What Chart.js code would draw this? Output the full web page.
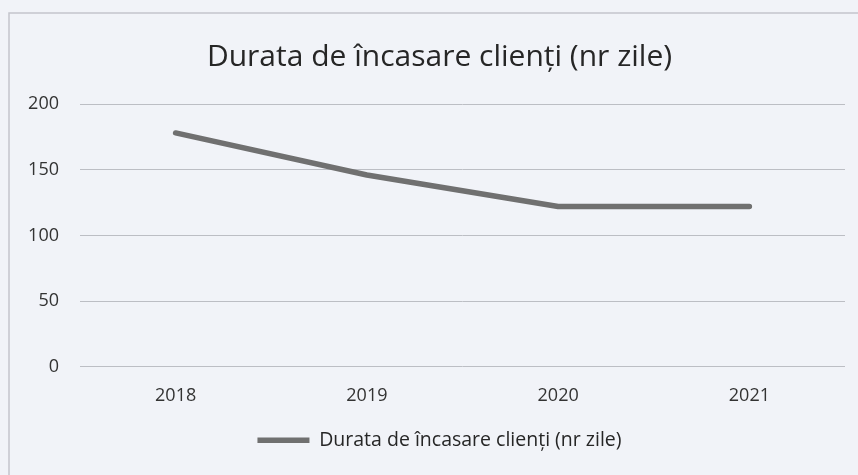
<!DOCTYPE html>
<html>
<head>
<meta charset="utf-8">
<script src="https://cdn.jsdelivr.net/npm/chart.js@4.4.1/dist/chart.umd.min.js"></script>
<style>
html,body{margin:0;padding:0;background:#eff1f6;}
#wrap{position:relative;width:858px;height:475px;}
canvas{display:block;}
</style>
</head>
<body>
<div id="wrap"><canvas id="c" width="858" height="475"></canvas></div>
<script>
const categories = ["2018", "2019", "2020", "2021"];
const seriesName = "Durata de încasare clienți (nr zile)";
const seriesValues = [178, 146, 122, 122];
const yTicks = [0, 50, 100, 150, 200];
const chartTitle = "Durata de încasare clienți (nr zile)";

const frame = {
  id: 'frame',
  afterLayout(chart) {
    const shift = 17;
    [chart.titleBlock, chart.legend].forEach(b => {
      if (b) { b.left += shift; b.right += shift; }
    });
  },
  beforeDraw(chart) {
    const ctx = chart.ctx;
    ctx.save();
    ctx.fillStyle = '#f1f3f8';
    ctx.fillRect(0, 0, chart.width, chart.height);
    ctx.strokeStyle = '#c3c5cc';
    ctx.lineWidth = 1.5;
    ctx.beginPath();
    ctx.moveTo(9, chart.height + 5);
    ctx.lineTo(9, 13);
    ctx.lineTo(chart.width + 5, 13);
    ctx.stroke();
    ctx.restore();
  }
};

new Chart(document.getElementById('c'), {
  type: 'line',
  data: {
    labels: categories,
    datasets: [{
      label: seriesName,
      data: seriesValues,
      borderColor: '#707070',
      backgroundColor: '#707070',
      borderWidth: 5.5,
      borderCapStyle: 'round',
      borderJoinStyle: 'round',
      pointRadius: 0,
      pointHoverRadius: 0,
      tension: 0,
      pointStyle: 'line'
    }]
  },
  options: {
    responsive: false,
    animation: false,
    devicePixelRatio: 1,
    layout: { padding: { left: 0, right: 13, top: 0, bottom: 15 } },
    plugins: {
      title: {
        display: true,
        text: chartTitle,
        color: '#262626',
        font: { family: 'Open Sans', size: 30, weight: 'normal' },
        padding: { top: 39, bottom: 29 }
      },
      legend: {
        position: 'bottom',
        labels: {
          usePointStyle: true,
          pointStyleWidth: 52,
          color: '#262626',
          font: { family: 'Open Sans', size: 19.5 },
          padding: 6
        }
      },
      tooltip: { enabled: false }
    },
    scales: {
      x: {
        offset: true,
        grid: { display: false, drawTicks: false },
        border: { display: false },
        ticks: { color: '#333', font: { family: 'Open Sans', size: 18 }, padding: 18 }
      },
      y: {
        min: 0, max: 200,
        afterFit(s) { s.width = 80; },
        afterBuildTicks(s) { s.ticks = yTicks.map(v => ({ value: v })); },
        grid: { color: '#bcbec4', lineWidth: 1, drawTicks: false },
        border: { display: false },
        ticks: { color: '#333', font: { family: 'Open Sans', size: 18 }, padding: 21 }
      }
    }
  },
  plugins: [frame]
});
</script>
</body>
</html>
